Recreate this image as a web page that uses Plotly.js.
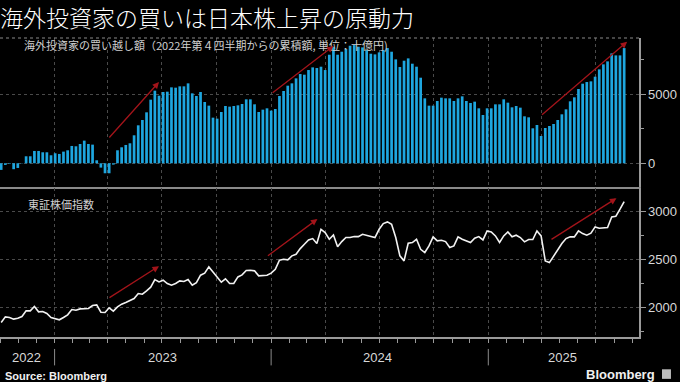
<!DOCTYPE html>
<html>
<head>
<meta charset="utf-8">
<script src="https://cdn.plot.ly/plotly-3.0.1.min.js"></script>
<style>
html,body{margin:0;padding:0;background:#000;}
#chart{width:680px;height:382px;}
</style>
</head>
<body>
<div id="chart"></div>
<script>
// Weekly observations, first week starting 2022-10-03
const firstWeek = '2022-10-03';

// Cumulative net purchases by foreign investors since Q4 2022 (billion yen)
const foreignNetBuying = [
  -480,-120,-40,-430,-340,20,507,507,893,893,
  797,797,580,725,676,845,942,1256,1232,1400,
  1642,1400,1352,217,-314,-725,-725,-97,942,1159,
  1328,1449,2029,2753,3140,3695,4613,5265,4902,5168,
  5192,5506,5482,5579,5579,5796,5072,4878,5168,4444,
  4178,3309,3236,3719,4154,4106,4154,4202,4299,4637,
  4637,4275,3719,3888,3985,3816,3937,4878,5241,5627,
  5796,6158,6472,6424,6762,6955,6907,
  7004,6762,7873,8452,7873,8090,8283,8525,8573,8452,
  8404,8211,7945,7897,8042,8211,8356,8090,7535,6980,
  7439,7607,7221,7004,6206,4709,4178,4178,4516,4757,
  4709,4709,4516,4709,4854,4516,4371,4468,3985,3502,
  3985,3985,4275,4275,4637,4395,4057,4154,4033,3405,
  3333,2536,2777,1980,2560,2705,2850,3140,3550,3912,
  4492,4782,5386,5772,5892,5941,6279,6810,7173,7390,
  7970,7824,7824,8356
];

// TOPIX
const topix = [
  1844,1903,1896,1879,1889,1906,1965,1965,2010,1955,
  1958,1938,1896,1882,1872,1896,1924,1979,1972,1986,
  1986,1990,2021,2028,1951,1948,1997,1962,2007,2035,
  2052,2069,2094,2146,2139,2174,2212,2291,2267,2285,
  2250,2232,2250,2278,2271,2291,2232,2260,2337,2358,
  2423,2371,2312,2264,2299,2250,2250,2319,2340,2385,
  2389,2382,2330,2330,2337,2358,2399,2493,2503,2496,
  2538,2555,2614,2659,2704,2718,2666,
  2815,2781,2711,2756,2632,2687,2729,2729,2739,2739,
  2763,2750,2743,2729,2815,2874,2892,2868,2729,2538,
  2486,2670,2677,2711,2607,2573,2642,2736,2694,2701,
  2687,2625,2642,2736,2711,2694,2677,2722,2739,2704,
  2798,2788,2746,2677,2746,2788,2736,2753,2729,2684,
  2708,2708,2798,2746,2486,2468,2538,2607,2666,2718,
  2736,2736,2798,2770,2753,2774,2840,2826,2826,2833,
  2944,2951,3024,3103
];

const yearLabels = ['2022','2023','2024','2025'];
const yearLabelDates = ['2022-11-15','2023-07-02','2024-06-29','2025-05-06'];
const yearBoundaries = ['2023-01-01','2024-01-01','2025-01-01'];

const titleText = '海外投資家の買いは日本株上昇の原動力';
const barLabel = '海外投資家の買い越し額（2022年第４四半期からの累積額, 単位：十億円)';
const lineLabel = '東証株価指数';

// arrows: [tailDate, tailValue, headDate, headValue]
const barArrows = [
  ['2023-04-01',1762,'2023-06-26',5894],
  ['2024-01-01',5024,'2024-04-15',8504],
  ['2025-03-30',3429,'2025-08-23',8816]
];
const lineArrows = [
  ['2023-04-01',2093,'2023-06-26',2431],
  ['2023-12-24',2528,'2024-03-19',2921],
  ['2025-04-15',2700,'2025-08-05',3139]
];

const weeks = [];
{
  const d0 = new Date(firstWeek + 'T00:00:00Z');
  for (let i = 0; i < foreignNetBuying.length; i++) {
    const d = new Date(d0.getTime() + i * 7 * 86400000);
    weeks.push(d.toISOString().slice(0,10));
  }
}

const xRange = ['2022-10-01','2025-09-12'];
const gridCol = '#4a4a4a';
const axisCol = '#9a9a9a';
const tickFont = {family:'Liberation Sans, Arial, sans-serif', size:13, color:'#d8d8d8'};
const cjk = 'Noto Sans CJK JP, sans-serif';

const traces = [
  {type:'bar', x:weeks, y:foreignNetBuying, xaxis:'x', yaxis:'y',
   marker:{color:'#1ea6df', line:{width:0}}, hoverinfo:'skip'},
  {type:'scatter', mode:'lines', x:weeks.slice(0, topix.length), y:topix, xaxis:'x2', yaxis:'y2',
   line:{color:'#f2f2f2', width:1.6}, hoverinfo:'skip'}
];

const annotations = [
  {text:titleText, xref:'paper', yref:'paper', x:-0.003, y:1.070, xanchor:'left', yanchor:'middle',
   showarrow:false, font:{family:cjk, size:23, color:'#ffffff', weight:300}},
  {text:barLabel, xref:'paper', yref:'paper', x:0.034, y:0.977, xanchor:'left', yanchor:'middle',
   showarrow:false, font:{family:cjk, size:11, color:'#d0d0d0'}},
  {text:lineLabel, xref:'paper', yref:'paper', x:0.04, y:0.445, xanchor:'left', yanchor:'middle',
   showarrow:false, font:{family:cjk, size:11, color:'#d0d0d0'}},
  {text:'Source: Bloomberg', xref:'paper', yref:'paper', x:0.004, y:-0.131, xanchor:'left', yanchor:'middle',
   showarrow:false, font:{family:'Liberation Sans, Arial, sans-serif', size:11, color:'#f0f0f0', weight:'bold'}},
  {text:'<b>Bloomberg</b>', xref:'paper', yref:'paper', x:1.028, y:-0.124, xanchor:'right', yanchor:'middle',
   showarrow:false, font:{family:'Liberation Sans, Arial, sans-serif', size:13, color:'#f0f0f0'}}
];
yearLabels.forEach((t,i)=>{
  annotations.push({text:t, xref:'x2', yref:'paper', x:yearLabelDates[i], y:-0.068,
    xanchor:'center', yanchor:'middle', showarrow:false,
    font:{family:'Liberation Sans, Arial, sans-serif', size:13, color:'#d8d8d8'}});
});
const arrowStyle = {showarrow:true, arrowhead:2, arrowsize:1, arrowwidth:1.3, arrowcolor:'#a3141a', text:''};
barArrows.forEach(a=>{
  annotations.push(Object.assign({xref:'x', yref:'y', axref:'x', ayref:'y',
    x:a[2], y:a[3], ax:a[0], ay:a[1]}, arrowStyle));
});
lineArrows.forEach(a=>{
  annotations.push(Object.assign({xref:'x2', yref:'y2', axref:'x2', ayref:'y2',
    x:a[2], y:a[3], ax:a[0], ay:a[1]}, arrowStyle));
});

const shapes = [
  // top border of upper panel
  {type:'line', xref:'paper', yref:'paper', x0:0, x1:1, y0:1, y1:1,
   line:{color:'#8a8a8a', width:1.2, dash:'dot'}},
  // logo square
  {type:'rect', xref:'paper', yref:'paper', x0:1.036, x1:1.050, y0:-0.140, y1:-0.108,
   fillcolor:'#bdbdbd', line:{width:0}}
];
yearBoundaries.forEach(d=>{
  shapes.push({type:'line', xref:'x2', yref:'paper', x0:d, x1:d, y0:-0.04, y1:-0.095,
    line:{color:'#8a8a8a', width:1}});
});

const layout = {
  width:680, height:382,
  margin:{l:0, r:41, t:38, b:45},
  paper_bgcolor:'#000', plot_bgcolor:'#000',
  showlegend:false, bargap:0.35,
  xaxis:{type:'date', range:xRange, domain:[0,1], anchor:'y',
    dtick:'M3', tick0:'2022-10-01', showticklabels:false, ticks:'',
    showgrid:true, gridcolor:gridCol, griddash:'dot', gridwidth:1,
    showline:true, linecolor:'#8a8a8a', linewidth:2, zeroline:false},
  yaxis:{domain:[0.5017,1], range:[-1720,9085], side:'right', anchor:'x',
    dtick:5000, tick0:0, ticks:'outside', ticklen:5, tickcolor:axisCol, tickwidth:1,
    tickfont:tickFont, showgrid:true, gridcolor:gridCol, griddash:'dot',
    showline:true, linecolor:axisCol, linewidth:1.5, zeroline:false,
    minor:{dtick:2500, tick0:0, ticks:'outside', ticklen:3, tickcolor:axisCol, showgrid:false}},
  xaxis2:{type:'date', range:xRange, domain:[0,1], anchor:'y2',
    dtick:'M3', tick0:'2022-10-01', showticklabels:false, ticks:'outside', ticklen:4, tickcolor:axisCol,
    showgrid:true, gridcolor:gridCol, griddash:'dot',
    showline:true, linecolor:axisCol, linewidth:1.5, zeroline:false,
    minor:{dtick:'M1', tick0:'2022-10-01', ticks:'outside', ticklen:4, tickcolor:axisCol, showgrid:false}},
  yaxis2:{domain:[0,0.4983], range:[1693,3245], side:'right', anchor:'x2',
    dtick:500, tick0:0, ticks:'outside', ticklen:5, tickcolor:axisCol,
    tickfont:tickFont, showgrid:true, gridcolor:gridCol, griddash:'dot',
    showline:true, linecolor:axisCol, linewidth:1.5, zeroline:false,
    minor:{dtick:250, tick0:0, ticks:'outside', ticklen:3, tickcolor:axisCol, showgrid:false}},
  annotations:annotations,
  shapes:shapes
};

Plotly.newPlot('chart', traces, layout, {staticPlot:true, displayModeBar:false});
</script>
</body>
</html>
